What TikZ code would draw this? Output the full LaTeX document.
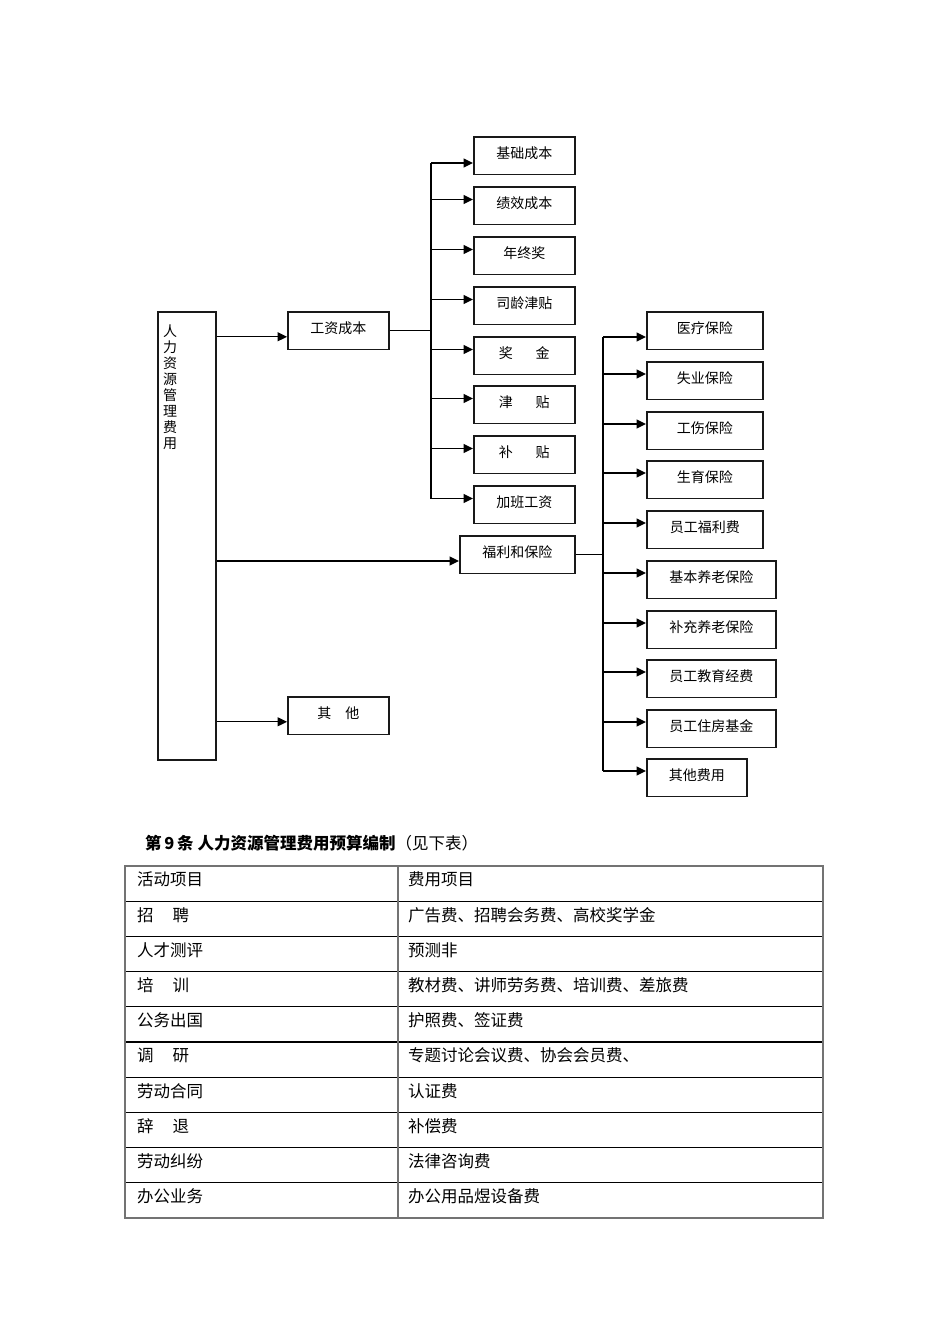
\documentclass[tikz,border=0pt]{standalone}
\usepackage{fontspec}
\setmainfont{Noto Sans CJK SC}
\usetikzlibrary{arrows.meta}
\begin{document}
\begin{tikzpicture}[x=1pt,y=-1pt,
  box/.style={draw=black!90, line width=1.5pt, inner xsep=0pt, inner ysep=0pt,
    text height=21.3pt, text depth=16.2pt, align=center,
    font=\fontsize{14}{16}\selectfont, anchor=north west},
  arr/.style={-{Triangle[length=9.5pt,width=9pt]}, line width=1.3pt},
  conn/.style={line width=1.3pt},
  cell/.style={font=\fontsize{16.5}{18}\selectfont, inner sep=0pt, anchor=base west}]
\useasboundingbox (0,0) rectangle (950,1344);
\fill[white] (0,0) rectangle (950,1344);

% main vertical box
\node[draw=black!90, line width=1.5pt, minimum width=58pt, minimum height=448pt,
      anchor=north west, inner sep=0pt] (hr) at (157,311) {};
\node[font=\fontsize{14}{15.9}\selectfont, align=center, anchor=north, inner sep=0pt]
  (hrtxt) at ([xshift=13pt,yshift=-14pt]hr.north west) {人\\力\\资\\源\\管\\理\\费\\用};

% second level
\node[box, minimum width=101pt] (wage) at (287,311) {工资成本};
\node[box, minimum width=115pt] (welf) at (459,535) {福利和保险};
\node[box, minimum width=101pt] (oth) at (287,696) {其\hspace{14pt}他};

% wage children
\node[box, minimum width=101pt] (b1) at (473,136) {基础成本};
\node[box, minimum width=101pt] (b2) at (473,186) {绩效成本};
\node[box, minimum width=101pt] (b3) at (473,236) {年终奖};
\node[box, minimum width=101pt] (b4) at (473,286) {司龄津贴};
\node[box, minimum width=101pt] (b5) at (473,336) {奖\hspace{23pt}金};
\node[box, minimum width=101pt] (b6) at (473,385) {津\hspace{23pt}贴};
\node[box, minimum width=101pt] (b7) at (473,435) {补\hspace{23pt}贴};
\node[box, minimum width=101pt] (b8) at (473,485) {加班工资};

% welfare children
\node[box, minimum width=116pt] (c1) at (646,311) {医疗保险};
\node[box, minimum width=116pt] (c2) at (646,361) {失业保险};
\node[box, minimum width=116pt] (c3) at (646,411) {工伤保险};
\node[box, minimum width=116pt] (c4) at (646,460) {生育保险};
\node[box, minimum width=116pt] (c5) at (646,510) {员工福利费};
\node[box, minimum width=129pt] (c6) at (646,560) {基本养老保险};
\node[box, minimum width=129pt] (c7) at (646,610) {补充养老保险};
\node[box, minimum width=129pt] (c8) at (646,659) {员工教育经费};
\node[box, minimum width=129pt] (c9) at (646,709) {员工住房基金};
\node[box, minimum width=100pt] (c10) at (646,758) {其他费用};

% from main box
\coordinate (tw) at ([yshift=-6.3pt]wage.west);
\coordinate (tf) at ([yshift=-6.5pt]welf.west);
\coordinate (to) at ([yshift=-6.3pt]oth.west);
\draw[arr] (hr.east |- tw) -- (tw);
\draw[arr] (hr.east |- tf) -- (tf);
\draw[arr] (hr.east |- to) -- (to);

% wage tree
\coordinate (j1) at (431,0);
\coordinate (t1) at ([yshift=-7.5pt]b1.west);
\foreach \i in {2,...,8} {\coordinate (t\i) at ([yshift=6pt]b\i.west);}
\draw[conn] (wage.east) -- (wage.east -| j1);
\draw[conn] (j1 |- t1) -- (j1 |- t8);
\foreach \i in {1,...,8} {\draw[arr] (j1 |- t\i) -- (t\i);}

% welfare tree
\coordinate (j2) at (603,0);
\coordinate (r1) at ([yshift=-6.5pt]c1.west);
\foreach \i in {2,...,10} {\coordinate (r\i) at ([yshift=6.5pt]c\i.west);}
\draw[conn] (welf.east) -- (welf.east -| j2);
\draw[conn] (j2 |- r1) -- (j2 |- r10);
\foreach \i in {1,...,10} {\draw[arr] (j2 |- r\i) -- (r\i);}

% title
\node[font=\fontsize{16.5}{18}\selectfont, inner sep=0pt, anchor=base west] (title) at (145,849)
  {\bfseries 第\,9\,条 人力资源管理费用预算编制\mdseries（见下表）};

% table
\foreach \k in {1,...,9} {\draw[line width=1.2pt] (125,{866+35.2*\k}) -- (823,{866+35.2*\k});}
\draw[black!55, line width=1.8pt] (125,866) rectangle (823,1218);
\draw[black!55, line width=1.6pt] (398,866) -- (398,1218);
\foreach \a/\b [count=\i from 0] in {
  活动项目/费用项目,
  招\hspace{19pt}聘/广告费、招聘会务费、高校奖学金,
  人才测评/预测非,
  培\hspace{19pt}训/教材费、讲师劳务费、培训费、差旅费,
  公务出国/护照费、签证费,
  调\hspace{19pt}研/专题讨论会议费、协会会员费、,
  劳动合同/认证费,
  辞\hspace{19pt}退/补偿费,
  劳动纠纷/法律咨询费,
  办公业务/办公用品煜设备费} {
  \node[cell] (la\i) at (137,{866+35.2*\i+19.8}) {\a};
  \node[cell] (ra\i) at (408,{866+35.2*\i+19.8}) {\b};
}
\end{tikzpicture}
\end{document}
